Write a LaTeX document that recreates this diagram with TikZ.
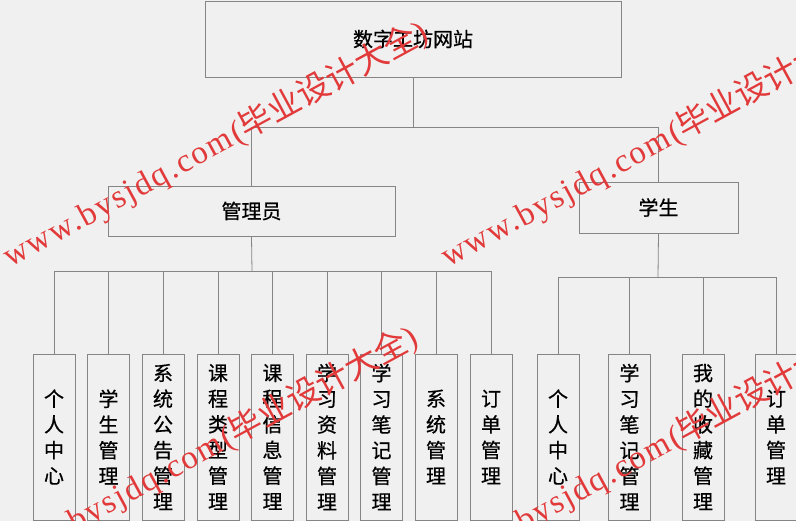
\documentclass[tikz,border=0pt]{standalone}
\usepackage{fontspec}
\setmainfont{Liberation Sans}
\newfontfamily\cjk[FakeBold=0.6]{Noto Sans CJK SC}
\newfontfamily\wmcjk{Noto Sans CJK SC}
\newfontfamily\wmserif[LetterSpace=6]{Liberation Serif}
\definecolor{bgc}{HTML}{F0F0F0}
\definecolor{linec}{HTML}{858585}
\definecolor{wmred}{HTML}{E23A3A}
\tikzset{
  box/.style={draw=linec, line width=0.8pt, fill=bgc, inner sep=0pt,
    font=\cjk\fontsize{20}{24}\selectfont, text=black},
  leaf/.style={box, minimum width=42pt, minimum height=166pt, align=center,
    font=\cjk\fontsize{20}{25.7}\selectfont},
  conn/.style={draw=linec, line width=0.8pt},
  wm/.style={text=wmred, rotate=28.5, anchor=base west, inner sep=0pt,
    font=\fontsize{33}{33}\selectfont}
}
\newcommand{\wmtext}{{\wmserif www.bysjdq.com(}{\wmcjk 毕业设计大全}{\wmserif )}}
\begin{document}
\begin{tikzpicture}[x=1pt,y=-1pt]
\useasboundingbox (0,0) rectangle (796,521);
\fill[bgc] (0,0) rectangle (796,521);
\clip (0,0) rectangle (796,521);
% top levels
\node[box, minimum width=416pt, minimum height=76pt] (root) at (413,39) {数字工坊网站};
\node[box, minimum width=287pt, minimum height=50pt] (admin) at (251.5,211) {管理员};
\node[box, minimum width=159pt, minimum height=51pt] (stu) at (658.5,207.5) {学生};
\coordinate (j1) at (413,127.5);
\coordinate (j2) at (252,271.5);
\coordinate (j3) at (658,277.5);
% admin leaves
\node[leaf] (a1) at (54,437) {个\\人\\中\\心};
\node[leaf] (a2) at (108.5,437) {学\\生\\管\\理};
\node[leaf] (a3) at (163,437) {系\\统\\公\\告\\管\\理};
\node[leaf] (a4) at (218,437) {课\\程\\类\\型\\管\\理};
\node[leaf] (a5) at (272.5,437) {课\\程\\信\\息\\管\\理};
\node[leaf] (a6) at (327,437) {学\\习\\资\\料\\管\\理};
\node[leaf] (a7) at (381.5,437) {学\\习\\笔\\记\\管\\理};
\node[leaf] (a8) at (436,437) {系\\统\\管\\理};
\node[leaf] (a9) at (491,437) {订\\单\\管\\理};
% student leaves
\node[leaf] (s1) at (558,437) {个\\人\\中\\心};
\node[leaf] (s2) at (629.5,437) {学\\习\\笔\\记\\管\\理};
\node[leaf] (s3) at (703,437) {我\\的\\收\\藏\\管\\理};
\node[leaf] (s4) at (776,437) {订\\单\\管\\理};
% connectors
\draw[conn] (root.south) -- (j1);
\draw[conn] (admin.north |- j1) -- (stu.north |- j1);
\draw[conn] (admin.north) -- (admin.north |- j1);
\draw[conn] (stu.north) -- (stu.north |- j1);
\draw[conn] (admin.south) -- (j2);
\draw[conn] (a1.north |- j2) -- (a9.north |- j2);
\foreach \n in {a1,a2,a3,a4,a5,a6,a7,a8,a9}{\draw[conn] (\n.north) -- (\n.north |- j2);}
\draw[conn] (stu.south) -- (j3);
\draw[conn] (s1.north |- j3) -- (s4.north |- j3);
\foreach \n in {s1,s2,s3,s4}{\draw[conn] (\n.north) -- (\n.north |- j3);}
% watermarks
\node[wm] (w1) at (10,268) {\wmtext};
\node[wm] (w2) at (448,268) {\wmtext};
\node[wm] (w3) at (0,573) {\wmtext};
\node[wm] (w4) at (448,573) {\wmtext};
\end{tikzpicture}
\end{document}
